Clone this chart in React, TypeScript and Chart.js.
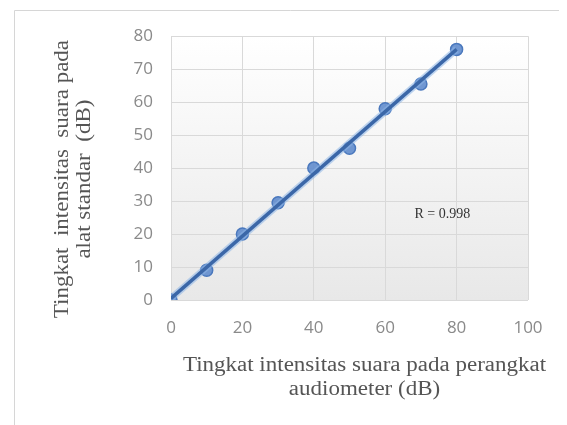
import React, { useEffect, useRef } from "react";
import { Chart, registerables } from "chart.js";

Chart.register(...registerables);

// ---- data ----
const xValues = [0, 10, 20, 30, 40, 50, 60, 70, 80];
const yValues = [0, 9, 20, 29.5, 40, 46, 58, 65.5, 76];
const trendX = [0, 80];
const trendY = [0.5, 76];
const xTicks = [0, 20, 40, 60, 80, 100];
const yTicks = [0, 10, 20, 30, 40, 50, 60, 70, 80];
const xTitle = ["Tingkat intensitas suara pada perangkat", "audiometer (dB)"];
const yTitle = ["Tingkat  intensitas  suara pada", "alat standar  (dB)"];
const rLabel = "R = 0.998";
const rLabelAt = [76, 26];

const TICK_COLOR = "#8a8a8a";
const GRID_COLOR = "#d9d9d9";
const TITLE_COLOR = "#555555";

const decorPlugin = {
  id: "decor",
  beforeDraw(chart: any) {
    const { ctx, chartArea: a } = chart;
    ctx.save();
    // outer frame (top + left)
    ctx.strokeStyle = "#d6d6d6";
    ctx.lineWidth = 1;
    ctx.beginPath();
    ctx.moveTo(6.5, chart.height);
    ctx.lineTo(6.5, 2.5);
    ctx.lineTo(chart.width, 2.5);
    ctx.stroke();
    // plot area gradient
    const g = ctx.createLinearGradient(0, a.top, 0, a.bottom);
    g.addColorStop(0, "#ffffff");
    g.addColorStop(1, "#e8e8e8");
    ctx.fillStyle = g;
    ctx.fillRect(a.left, a.top, a.right - a.left, a.bottom - a.top);
    ctx.restore();
  },
  afterDraw(chart: any) {
    const { ctx, chartArea: a, scales } = chart;
    ctx.save();
    ctx.fillStyle = TITLE_COLOR;
    ctx.font = '20px "Liberation Serif"';
    ctx.textAlign = "center";
    ctx.textBaseline = "alphabetic";
    const cx = (a.left + a.right) / 2 + 15;
    xTitle.forEach((line, i) => {
      ctx.save();
      ctx.translate(cx, a.bottom + 71 + i * 24);
      ctx.scale(1.15, 1);
      ctx.fillText(line, 0, 0);
      ctx.restore();
    });
    const cy = (a.top + a.bottom) / 2 + 11;
    yTitle.forEach((line, i) => {
      ctx.save();
      ctx.translate(a.left - 103 + i * 22, cy);
      ctx.rotate(-Math.PI / 2);
      ctx.scale(1.15, 1);
      ctx.fillText(line, 0, 0);
      ctx.restore();
    });
    // R label
    ctx.fillStyle = "#333333";
    ctx.font = '14px "Liberation Serif"';
    ctx.textBaseline = "middle";
    ctx.fillText(
      rLabel,
      scales.x.getPixelForValue(rLabelAt[0]),
      scales.y.getPixelForValue(rLabelAt[1])
    );
    ctx.restore();
  },
};

export default function App() {
  const ref = useRef<HTMLCanvasElement | null>(null);

  useEffect(() => {
    if (!ref.current) return;
    const points = xValues.map((x, i) => ({ x, y: yValues[i] }));
    const trend = trendX.map((x, i) => ({ x, y: trendY[i] }));
    const tickFont = { family: '"Open Sans"', size: 17 };
    const chart = new Chart(ref.current, {
      type: "scatter",
      data: {
        datasets: [
          {
            label: "trend",
            data: trend,
            showLine: true,
            borderColor: "#3b67a8",
            borderWidth: 3.5,
            pointRadius: 0,
            order: 0,
          },
          {
            label: "halo",
            data: trend,
            showLine: true,
            borderColor: "rgba(140,180,230,0.55)",
            borderWidth: 7,
            pointRadius: 0,
            order: 1,
          },
          {
            label: "data",
            data: points,
            showLine: false,
            pointRadius: 6,
            pointBackgroundColor: "rgba(96,140,205,0.9)",
            pointBorderColor: "#4a78bd",
            pointBorderWidth: 1.5,
            order: 2,
          },
        ],
      },
      options: {
        responsive: false,
        animation: false,
        layout: { padding: { top: 28, right: 39, left: 0, bottom: 0 } },
        plugins: {
          legend: { display: false },
          tooltip: { enabled: false },
        },
        scales: {
          x: {
            type: "linear",
            min: 0,
            max: 100,
            border: { display: false },
            grid: { color: GRID_COLOR, drawTicks: false },
            ticks: { color: TICK_COLOR, font: tickFont, padding: 18 },
            afterBuildTicks: (s: any) => {
              s.ticks = xTicks.map((v) => ({ value: v }));
            },
            afterFit: (s: any) => {
              s.height = 125;
            },
          },
          y: {
            type: "linear",
            min: 0,
            max: 80,
            border: { display: false },
            grid: { color: GRID_COLOR, drawTicks: false },
            ticks: { color: TICK_COLOR, font: tickFont, padding: 18 },
            afterBuildTicks: (s: any) => {
              s.ticks = yTicks.map((v) => ({ value: v }));
            },
            afterFit: (s: any) => {
              s.width = 163;
            },
          },
        },
      },
      plugins: [decorPlugin],
    });
    return () => chart.destroy();
  }, []);

  return (
    <div style={{ width: 559, height: 417 }}>
      <canvas ref={ref} width={559} height={417} />
    </div>
  );
}
